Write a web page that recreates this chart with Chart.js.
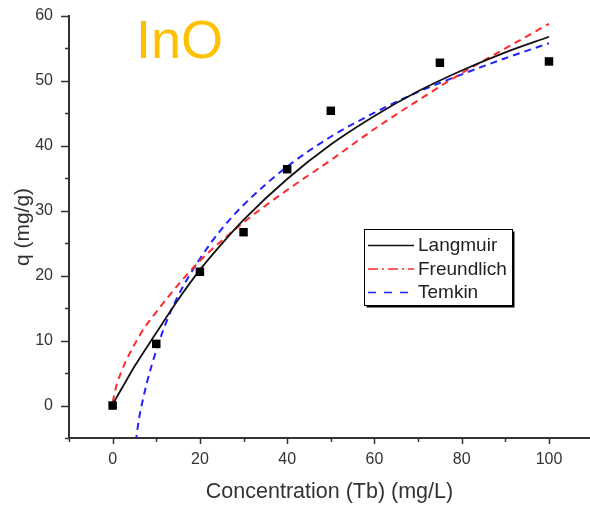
<!DOCTYPE html>
<html>
<head>
<meta charset="utf-8">
<script src="https://cdn.jsdelivr.net/npm/chart.js@4.4.1/dist/chart.umd.min.js"></script>
<style>
  html, body { margin: 0; padding: 0; background: #fff; overflow: hidden; }
  #wrap { position: relative; width: 590px; height: 508px; }
</style>
</head>
<body>
<div id="wrap"><canvas id="isoChart"></canvas></div>
<script>
// measured uptake
const concentration = [0, 10, 20, 30, 40, 50, 75, 100];
const uptake = [0, 9.5, 20.6, 26.7, 36.4, 45.4, 52.8, 53.0];

// fitted isotherms
const langmuirX = [0, 2.5, 5, 10, 15, 20, 25, 30, 40, 50, 60, 70, 80, 90, 100];
const langmuirY = [0.2, 3.1, 6.0, 11.2, 16.3, 20.9, 24.9, 28.6, 34.9, 40.2, 44.6, 48.4, 51.6, 54.4, 56.8];

const freundlichX = [0, 1, 2, 3, 5, 7.5, 10, 15, 20, 30, 40, 50, 60, 70, 80, 90, 100];
const freundlichY = [0.5, 3.4, 5.2, 6.8, 9.4, 12.2, 14.4, 18.6, 22.3, 28.2, 33.2, 37.8, 42.6, 47.0, 51.2, 55.0, 58.8];

const temkinX = [5.3, 6, 7, 8, 10, 12.5, 15, 20, 25, 30, 40, 50, 60, 70, 80, 90, 100];
const temkinY = [-5.6, -2.2, 1.1, 3.9, 8.5, 13.2, 16.9, 22.6, 27.2, 30.9, 36.8, 41.4, 45.1, 48.3, 51.0, 53.5, 55.8];

// axis ticks
const xTicks = [-10, 0, 10, 20, 30, 40, 50, 60, 70, 80, 90, 100];
const xLabels = [0, 20, 40, 60, 80, 100];
const yTicks = [-5, 0, 5, 10, 15, 20, 25, 30, 35, 40, 45, 50, 55, 60];
const yLabels = [0, 10, 20, 30, 40, 50, 60];

const FONT = "'Liberation Sans', Arial, sans-serif";

function toPoints(xs, ys) {
    return xs.map((x, i) => ({ x: x, y: ys[i] }));
}

// tick marks, title text and the boxed legend
const decor = {
    id: 'decor',
    afterDraw(chart) {
        const c = chart.ctx;
        const xs = chart.scales.x, ys = chart.scales.y;
        const area = chart.chartArea;
        c.save();
        c.strokeStyle = '#333';
        c.lineWidth = 1.5;
        c.beginPath();
        xTicks.forEach(v => {
            const px = Math.round(xs.getPixelForValue(v)) + 0.5;
            const len = xLabels.includes(v) ? 6 : 4;
            c.moveTo(px, area.bottom);
            c.lineTo(px, area.bottom + len);
        });
        yTicks.forEach(v => {
            const py = Math.round(ys.getPixelForValue(v)) + 0.5;
            const len = yLabels.includes(v) ? 8 : 4;
            c.moveTo(area.left, py);
            c.lineTo(area.left - len, py);
        });
        c.stroke();

        // sample name
        c.fillStyle = '#FFC000';
        c.font = '54px ' + FONT;
        c.textBaseline = 'alphabetic';
        c.textAlign = 'left';
        c.fillText('InO', 136, 58);

        // legend
        const bx = 364.5, by = 229.5, bw = 148, bh = 76;
        c.fillStyle = '#000';
        c.fillRect(bx + 2, by + 2, bw, bh);
        c.fillStyle = '#fff';
        c.fillRect(bx, by, bw, bh);
        c.lineWidth = 1;
        c.strokeStyle = '#000';
        c.strokeRect(bx, by, bw, bh);

        const rows = chart.data.datasets.slice(1);
        rows.forEach((ds, i) => {
            const ly = 245.5 + i * 23.5;
            c.beginPath();
            c.setLineDash(ds.legendDash);
            c.strokeStyle = ds.borderColor;
            c.lineWidth = 1.5;
            c.moveTo(368, ly);
            c.lineTo(414, ly);
            c.stroke();
            c.setLineDash([]);
            c.fillStyle = '#222';
            c.font = '19px ' + FONT;
            c.fillText(ds.label, 418, ly + 5.5);
        });
        c.restore();
    }
};

const ctx = document.getElementById('isoChart').getContext('2d');
const isoChart = new Chart(ctx, {
    type: 'scatter',
    data: {
        datasets: [{
            label: 'Data',
            data: toPoints(concentration, uptake),
            pointStyle: 'rect',
            pointRadius: 6,
            backgroundColor: '#000',
            borderColor: '#000',
            borderWidth: 0,
            showLine: false
        }, {
            label: 'Langmuir',
            data: toPoints(langmuirX, langmuirY),
            showLine: true,
            borderColor: '#111',
            borderWidth: 1.8,
            pointRadius: 0,
            cubicInterpolationMode: 'monotone',
            legendDash: []
        }, {
            label: 'Freundlich',
            data: toPoints(freundlichX, freundlichY),
            showLine: true,
            borderColor: '#ff2a2a',
            borderWidth: 2,
            borderDash: [7, 5],
            pointRadius: 0,
            cubicInterpolationMode: 'monotone',
            legendDash: [10, 4, 2, 4]
        }, {
            label: 'Temkin',
            data: toPoints(temkinX, temkinY),
            showLine: true,
            borderColor: '#2323ff',
            borderWidth: 2,
            borderDash: [7, 5],
            pointRadius: 0,
            cubicInterpolationMode: 'monotone',
            legendDash: [8, 8]
        }]
    },
    options: {
        animation: false,
        responsive: true,
        maintainAspectRatio: false,
        layout: { autoPadding: false, padding: { top: 16, right: 0, left: 0, bottom: 0 } },
        plugins: { legend: { display: false }, tooltip: { enabled: false } },
        scales: {
            x: {
                type: 'linear',
                min: -10,
                max: 109.4,
                grid: { display: false, drawTicks: false },
                border: { display: true, color: '#333', width: 2 },
                afterBuildTicks(s) { s.ticks = xTicks.map(v => ({ value: v })); },
                ticks: {
                    autoSkip: false,
                    maxRotation: 0,
                    padding: 12,
                    color: '#333',
                    font: { family: FONT, size: 16 },
                    callback: (v) => xLabels.includes(v) ? String(v) : ''
                },
                title: {
                    display: true,
                    text: 'Concentration (Tb) (mg/L)',
                    color: '#333',
                    font: { family: FONT, size: 21.5 },
                    padding: { top: 3, bottom: 3 }
                },
                afterFit(s) {
                    s.height = 70;
                    s.paddingLeft = 0;
                    s.paddingRight = 0;
                }
            },
            y: {
                type: 'linear',
                min: -5,
                max: 60,
                grid: { display: false, drawTicks: false },
                border: { display: true, color: '#333', width: 2 },
                afterBuildTicks(s) { s.ticks = yTicks.map(v => ({ value: v })); },
                ticks: {
                    autoSkip: false,
                    padding: 16,
                    color: '#333',
                    font: { family: FONT, size: 16 },
                    callback: (v) => yLabels.includes(v) ? String(v) : ''
                },
                title: {
                    display: true,
                    text: 'q (mg/g)',
                    color: '#333',
                    font: { family: FONT, size: 21 },
                    padding: { top: 11, bottom: 11 }
                },
                afterFit(s) {
                    s.width = 69;
                    s.paddingTop = 0;
                    s.paddingBottom = 0;
                }
            }
        }
    },
    plugins: [decor]
});
</script>
</body>
</html>
